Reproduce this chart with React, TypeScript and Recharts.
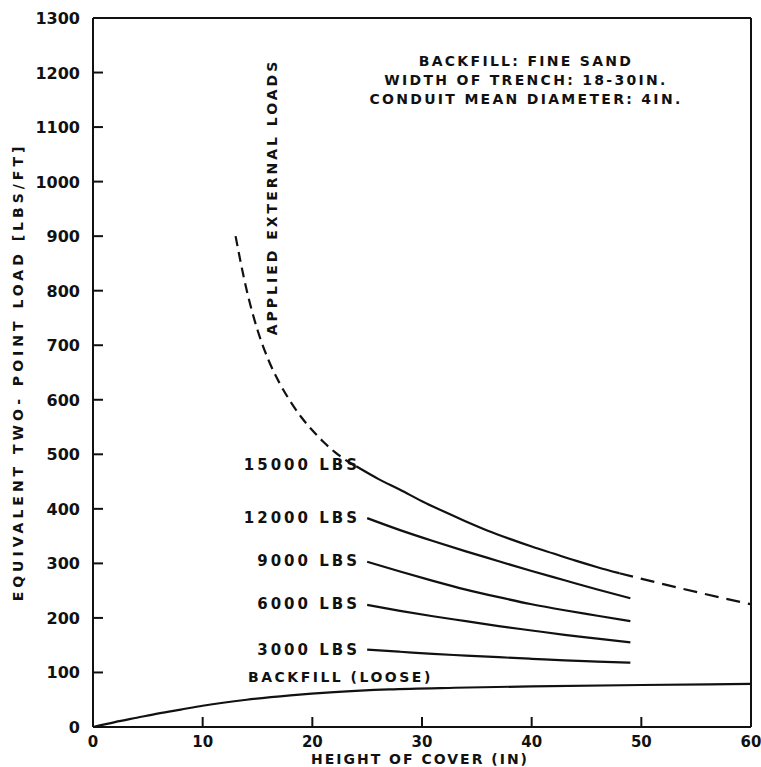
import { LineChart, Line, XAxis, YAxis, ReferenceLine } from "recharts";

document.body.style.margin = "0";

const xTicks = [0, 10, 20, 30, 40, 50, 60];
const yTicks = [0, 100, 200, 300, 400, 500, 600, 700, 800, 900, 1000, 1100, 1200, 1300];

// applied external loads envelope (dashed part, small cover)
const envelopeHigh = [
  { x: 13, y: 900 },
  { x: 14, y: 802 },
  { x: 15, y: 728 },
  { x: 16, y: 673 },
  { x: 17, y: 631 },
  { x: 18, y: 597 },
  { x: 19, y: 568 },
  { x: 20, y: 544 },
  { x: 21, y: 523 },
  { x: 22, y: 505 },
  { x: 23, y: 490 },
  { x: 24, y: 478 },
];
const load15000 = [
  { x: 24, y: 478 },
  { x: 26, y: 455 },
  { x: 28, y: 435 },
  { x: 30, y: 414 },
  { x: 32, y: 395 },
  { x: 34, y: 377 },
  { x: 36, y: 360 },
  { x: 38, y: 345 },
  { x: 40, y: 331 },
  { x: 42, y: 318 },
  { x: 44, y: 305 },
  { x: 46, y: 293 },
  { x: 48, y: 282 },
];
const envelopeLow = [
  { x: 48, y: 282 },
  { x: 52, y: 262 },
  { x: 56, y: 243 },
  { x: 60, y: 225 },
];
const load12000 = [
  { x: 25, y: 383 },
  { x: 28, y: 361 },
  { x: 31, y: 341 },
  { x: 34, y: 322 },
  { x: 37, y: 304 },
  { x: 40, y: 286 },
  { x: 43, y: 269 },
  { x: 46, y: 252 },
  { x: 49, y: 236 },
];
const load9000 = [
  { x: 25, y: 303 },
  { x: 28, y: 285 },
  { x: 31, y: 268 },
  { x: 34, y: 252 },
  { x: 37, y: 238 },
  { x: 40, y: 225 },
  { x: 43, y: 214 },
  { x: 46, y: 204 },
  { x: 49, y: 194 },
];
const load6000 = [
  { x: 25, y: 224 },
  { x: 28, y: 213 },
  { x: 31, y: 203 },
  { x: 34, y: 194 },
  { x: 37, y: 185 },
  { x: 40, y: 177 },
  { x: 43, y: 169 },
  { x: 46, y: 162 },
  { x: 49, y: 155 },
];
const load3000 = [
  { x: 25, y: 142 },
  { x: 28, y: 138 },
  { x: 31, y: 134 },
  { x: 34, y: 131 },
  { x: 37, y: 128 },
  { x: 40, y: 125 },
  { x: 43, y: 122 },
  { x: 46, y: 120 },
  { x: 49, y: 118 },
];
const backfill = [
  { x: 0, y: 0 },
  { x: 2, y: 9 },
  { x: 4, y: 17 },
  { x: 6, y: 25 },
  { x: 8, y: 32 },
  { x: 10, y: 39 },
  { x: 14, y: 50 },
  { x: 18, y: 58 },
  { x: 22, y: 64 },
  { x: 27, y: 69 },
  { x: 33, y: 72 },
  { x: 40, y: 74.5 },
  { x: 50, y: 77 },
  { x: 60, y: 79 },
];

const loadLabels = [
  { text: "15000 LBS", y: 480 },
  { text: "12000 LBS", y: 383 },
  { text: "9000 LBS", y: 305 },
  { text: "6000 LBS", y: 225 },
  { text: "3000 LBS", y: 142 },
];

const font = "'DejaVu Sans', sans-serif";
const ink = "#111";

const W = 761;
const H = 767;
const left = 93;
const top = 18;
const right = 751;
const bottom = 727;
const py = (v: number) => bottom - ((bottom - top) * v) / 1300;

function YTick(props: any) {
  const { y, payload } = props;
  return (
    <text x={left - 13} y={y + 6} textAnchor="end" fontFamily={font} fontWeight="bold" fontSize={16} fill={ink}>
      {payload.value}
    </text>
  );
}

function XTick(props: any) {
  const { x, payload } = props;
  return (
    <text x={x} y={bottom + 20} textAnchor="middle" fontFamily={font} fontWeight="bold" fontSize={15} fill={ink}>
      {payload.value}
    </text>
  );
}

const txt: React.CSSProperties = {
  position: "absolute",
  fontFamily: font,
  fontWeight: "bold",
  fontSize: 15,
  letterSpacing: 3,
  color: ink,
  whiteSpace: "nowrap",
  lineHeight: "16px",
};

export default function App() {
  const line = (data: any[], dash?: string) => (
    <Line
      data={data}
      dataKey="y"
      type="monotone"
      stroke={ink}
      strokeWidth={2.2}
      strokeDasharray={dash}
      dot={false}
      isAnimationActive={false}
    />
  );
  return (
    <div style={{ position: "relative", width: W, height: H, background: "#fff" }}>
      <LineChart width={W} height={H} margin={{ top, right: W - right, left: 0, bottom: 0 }}>
        {/* negative tickSize draws the tick marks inside the plot, as in the original */}
        <XAxis
          type="number"
          dataKey="x"
          domain={[0, 60]}
          ticks={xTicks}
          height={H - bottom}
          axisLine={{ stroke: ink, strokeWidth: 2 }}
          tickLine={{ stroke: ink, strokeWidth: 2 }}
          tickSize={-10}
          tick={<XTick />}
          allowDuplicatedCategory={false}
        />
        <YAxis
          type="number"
          domain={[0, 1300]}
          ticks={yTicks}
          width={left}
          axisLine={{ stroke: ink, strokeWidth: 2 }}
          tickLine={{ stroke: ink, strokeWidth: 2 }}
          tickSize={-10}
          tick={<YTick />}
          interval={0}
        />
        <ReferenceLine y={1300} stroke={ink} strokeWidth={2} />
        <ReferenceLine x={60} stroke={ink} strokeWidth={2} />
        {line(envelopeHigh, "10 6")}
        {line(load15000)}
        {line(envelopeLow, "14 8")}
        {line(load12000)}
        {line(load9000)}
        {line(load6000)}
        {line(load3000)}
        {line(backfill)}
      </LineChart>

      {loadLabels.map((l) => (
        <div key={l.text} style={{ ...txt, right: W - 360, top: py(l.y) - 8 }}>
          {l.text}
        </div>
      ))}
      <div style={{ ...txt, left: 248, top: 669, fontSize: 14, letterSpacing: 2.5 }}>BACKFILL (LOOSE)</div>
      <div
        style={{
          ...txt,
          left: 526,
          top: 52,
          fontSize: 14,
          letterSpacing: 2.3,
          transform: "translateX(-50%)",
          textAlign: "center",
          lineHeight: "19px",
        }}
      >
        BACKFILL: FINE SAND
        <br />
        WIDTH OF TRENCH: 18-30IN.
        <br />
        CONDUIT MEAN DIAMETER: 4IN.
      </div>
      <div
        style={{
          ...txt,
          left: 272,
          top: 197,
          fontSize: 14,
          letterSpacing: 3,
          transform: "translate(-50%, -50%) rotate(-90deg)",
        }}
      >
        APPLIED EXTERNAL LOADS
      </div>
      <div
        style={{
          ...txt,
          left: 18,
          top: 372,
          fontSize: 14,
          letterSpacing: 4,
          transform: "translate(-50%, -50%) rotate(-90deg)",
        }}
      >
        EQUIVALENT TWO- POINT LOAD [LBS/FT]
      </div>
      <div
        style={{
          ...txt,
          left: 420,
          top: 752,
          fontSize: 14,
          letterSpacing: 2,
          lineHeight: "14px",
          transform: "translateX(-50%)",
        }}
      >
        HEIGHT OF COVER (IN)
      </div>
    </div>
  );
}
